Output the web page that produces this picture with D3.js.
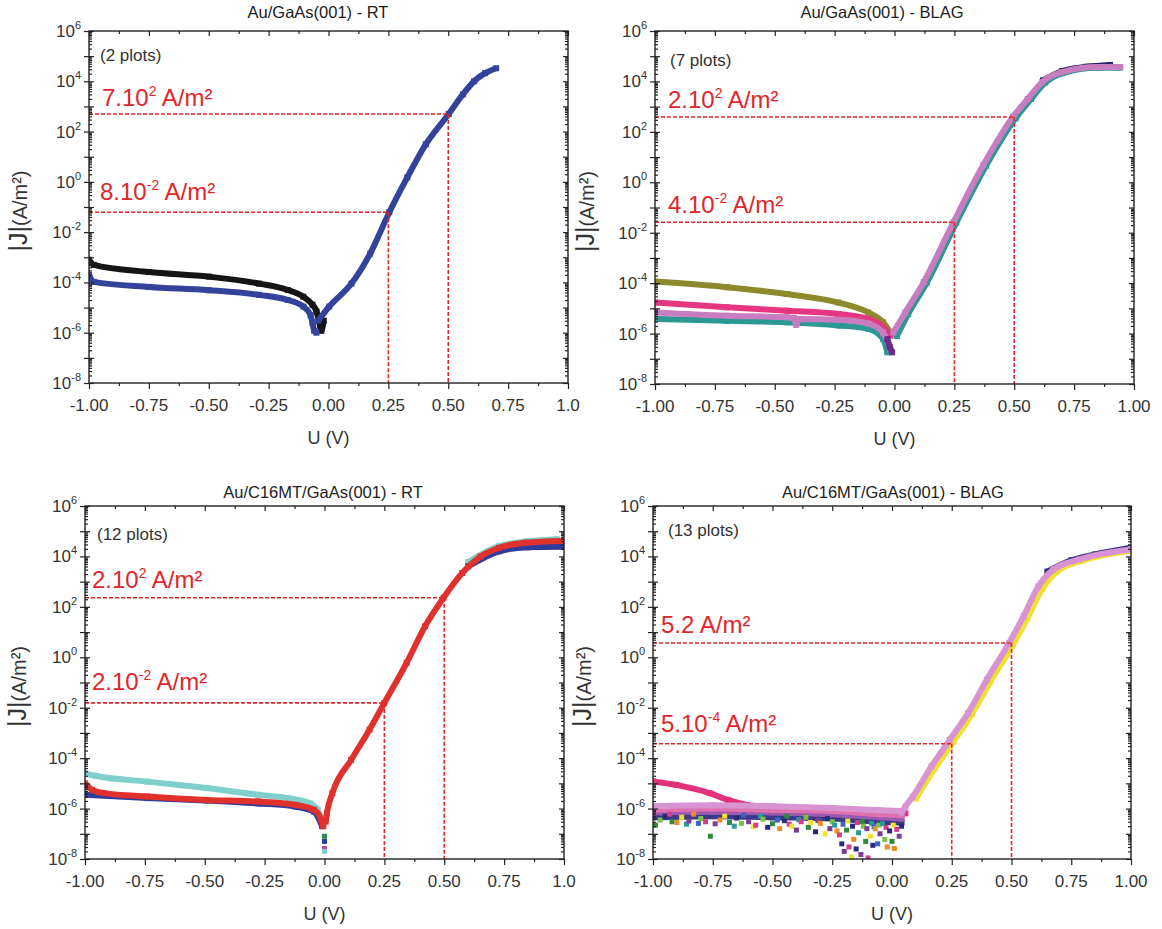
<!DOCTYPE html>
<html>
<head>
<meta charset="utf-8">
<script src="https://cdnjs.cloudflare.com/ajax/libs/d3/7.8.5/d3.min.js"></script>
<style>
body { margin: 0; background: #fff; }
text { font-family: "Liberation Sans", Arial, sans-serif; }
</style>
</head>
<body>
<div id="chart"></div>
<script>
// ---- axis ticks / labels ----
var xMajor = [-1, -0.75, -0.5, -0.25, 0, 0.25, 0.5, 0.75, 1];
var xMinor = [-0.875, -0.625, -0.375, -0.125, 0.125, 0.375, 0.625, 0.875];
var xLabelsFull = ["-1.00", "-0.75", "-0.50", "-0.25", "0.00", "0.25", "0.50", "0.75", "1.00"];
var xLabelsCut = ["-1.00", "-0.75", "-0.50", "-0.25", "0.00", "0.25", "0.50", "0.75", "1.0"];
var yExps = [6, 4, 2, 0, -2, -4, -6, -8];

// ---- Au/GaAs(001) - RT : [U (V), |J| (A/m2)] ----
var p1Black = [[-1.00, 8e-4], [-0.98, 5e-4], [-0.75, 2.6e-4], [-0.50, 1.7e-4], [-0.29, 9e-5],
  [-0.17, 5e-5], [-0.105, 2.7e-5], [-0.067, 1.3e-5], [-0.05, 7e-6], [-0.04, 3e-6], [-0.03, 1.2e-6], [-0.02, 3e-6]];
var p1BlueRev = [[-1.00, 2e-4], [-0.98, 1.05e-4], [-0.75, 6.6e-5], [-0.50, 4.9e-5], [-0.29, 3.2e-5],
  [-0.17, 2e-5], [-0.105, 1.1e-5], [-0.075, 5e-6], [-0.067, 2.5e-6], [-0.06, 1.2e-6], [-0.05, 1e-6]];
var p1BlueFwd = [[-0.043, 3e-6], [0.003, 1.1e-5], [0.096, 9e-5], [0.174, 1.4e-3], [0.254, 6.2e-2],
  [0.329, 1.5], [0.406, 31], [0.502, 5e2], [0.561, 3e3], [0.608, 1e4], [0.654, 2.1e4], [0.70, 3.3e4]];
var p1Refs = [[0.25, 6.2e-2], [0.50, 5e2]];

// ---- Au/GaAs(001) - BLAG ----
var p2Olive = [[-1.00, 1.15e-4], [-0.70, 6.9e-5], [-0.45, 3.7e-5], [-0.234, 1.7e-5], [-0.11, 6.9e-6], [-0.048, 2.8e-6], [-0.017, 1.1e-6]];
var p2Pink = [[-1.00, 1.7e-5], [-0.70, 1.1e-5], [-0.45, 8.1e-6], [-0.234, 6e-6], [-0.11, 3.8e-6], [-0.048, 1.8e-6], [-0.017, 8.3e-7]];
var p2Lilac = [[-1.00, 6.9e-6], [-0.70, 5.1e-6], [-0.45, 4.4e-6], [-0.42, 4.2e-6], [-0.41, 2.2e-6], [-0.40, 3.8e-6],
  [-0.234, 3.5e-6], [-0.11, 2.5e-6], [-0.048, 1.1e-6], [-0.017, 2.5e-7]];
var p2Purple = [[-0.03, 6e-7], [-0.02, 3e-7], [-0.01, 1.8e-7]];
var p2Teal = [[-1.00, 3.8e-6], [-0.70, 3.2e-6], [-0.45, 2.8e-6], [-0.234, 2.1e-6], [-0.11, 1.55e-6], [-0.048, 6.2e-7], [-0.03, 1.8e-7]];
var p2TealFwd = [[0.01, 8e-7], [0.057, 6e-6], [0.134, 1e-4], [0.258, 2.5e-2], [0.382, 4.5], [0.506, 3.5e2],
  [0.57, 2e3], [0.63, 9e3], [0.70, 2.1e4], [0.85, 3.5e4], [0.94, 3.5e4]];
var p2Fwd = [[-0.005, 1.1e-6], [0.045, 6.9e-6], [0.122, 1.1e-4], [0.246, 2.6e-2], [0.370, 4.7], [0.494, 3.9e2],
  [0.556, 2e3], [0.617, 9.5e3], [0.695, 2.3e4], [0.85, 3.7e4], [0.943, 3.7e4]];
var p2NavyTop = [[0.62, 1.1e4], [0.70, 2.6e4], [0.80, 3.8e4], [0.90, 4.5e4]];
var p2Refs = [[0.25, 2.6e-2], [0.50, 3.9e2]];

// ---- Au/C16MT/GaAs(001) - RT ----
var p3Cyan = [[-1.00, 2.5e-5], [-0.957, 2e-5], [-0.74, 1.17e-5], [-0.493, 6.5e-6], [-0.276, 3.5e-6],
  [-0.152, 2.6e-6], [-0.06, 1.6e-6], [-0.029, 8.9e-7], [-0.01, 3e-7]];
var p3Red = [[-1.00, 1.0e-5], [-0.97, 5.5e-6], [-0.92, 4.1e-6], [-0.74, 3e-6], [-0.493, 2.2e-6], [-0.276, 1.9e-6],
  [-0.121, 1.4e-6], [-0.044, 8.9e-7], [-0.013, 3.5e-7], [-0.005, 2e-7]];
var p3Navy = [[-1.00, 3.5e-6], [-0.74, 2.6e-6], [-0.493, 2.1e-6], [-0.276, 1.6e-6], [-0.121, 1.2e-6], [-0.044, 7.6e-7], [-0.01, 2e-7]];
var p3Dip = [[0.0, 8e-8, "#2a8a4a"], [0.0, 5e-8, "#2f3c9c"], [0.0, 2.6e-8, "#c84aa8"], [0.0, 2e-8, "#7fcfcd"]];
var p3CyanTop = [[0.60, 6e3], [0.73, 2.6e4], [0.85, 4e4], [0.97, 4.8e4]];
var p3NavyTop = [[0.60, 4e3], [0.73, 1.6e4], [0.85, 2.3e4], [1.00, 2.4e4]];
var p3RedFwd = [[0.005, 3e-7], [0.01, 6.6e-7], [0.033, 4.1e-6], [0.111, 8.5e-5], [0.188, 1.35e-3], [0.25, 1.55e-2],
  [0.343, 0.6], [0.42, 17], [0.497, 2.3e2], [0.575, 2.2e3], [0.652, 1e4], [0.729, 2.2e4], [0.838, 3.5e4], [0.992, 4.1e4]];
var p3Refs = [[0.25, 1.55e-2], [0.50, 2.3e2]];

// ---- Au/C16MT/GaAs(001) - BLAG ----
var p4Hot = [[-1.00, 1.2e-5], [-0.903, 8.7e-6], [-0.763, 4.1e-6], [-0.686, 2.2e-6], [-0.609, 1.4e-6], [-0.531, 1.2e-6],
  [-0.377, 1.0e-6], [-0.222, 9.3e-7], [-0.067, 7.6e-7], [0.01, 5.6e-7], [0.056, 6.5e-7]];
var p4Navy = [[-1.00, 4.5e-7], [-0.75, 5e-7], [-0.50, 4.5e-7], [-0.25, 4e-7], [-0.05, 3e-7], [0.04, 2.8e-7]];
var p4Violet = [[-1.00, 7e-7], [-0.75, 7.5e-7], [-0.50, 7e-7], [-0.25, 6e-7], [-0.05, 4.5e-7], [0.04, 4e-7]];
var p4Rose = [[-1.00, 9e-7], [-0.75, 1e-6], [-0.50, 9e-7], [-0.25, 8e-7], [-0.05, 6e-7], [0.04, 5.5e-7]];
var p4Lilac = [[-1.00, 1.25e-6], [-0.75, 1.35e-6], [-0.50, 1.25e-6], [-0.25, 1.05e-6], [-0.05, 8.5e-7], [0.04, 8e-7]];
var p4Yellow = [[0.10, 2.5e-6], [0.18, 4e-5], [0.257, 4.5e-4], [0.334, 5.5e-3], [0.412, 0.11], [0.505, 3],
  [0.566, 35], [0.628, 5e2], [0.69, 2.5e3], [0.80, 7e3], [1.00, 1.7e4]];
var p4NavyTop = [[0.65, 2.5e3], [0.75, 7e3], [0.85, 1.2e4], [1.00, 2.2e4]];
var p4Fwd = [[0.04, 7e-7], [0.056, 1.2e-6], [0.087, 3e-6], [0.165, 4.7e-5], [0.242, 5.4e-4], [0.319, 6.2e-3],
  [0.397, 0.13], [0.49, 3.7], [0.551, 43], [0.613, 6.6e2], [0.675, 3e3], [0.783, 7.6e3], [1.00, 1.9e4]];
var p4NoiseColors = ["#2e8b3e", "#7cc04a", "#f2e32a", "#f08c28", "#2a2a7a", "#7a3c96", "#d43c8c", "#2a9a9a", "#3c64c8"];
var p4Noise = [[-0.99, 2.2e-7, 0], [-0.97, 3.5e-7, 1], [-0.95, 5e-7, 4], [-0.93, 6e-7, 6], [-0.92, 3e-7, 0],
  [-0.90, 2.8e-7, 3], [-0.88, 4.5e-7, 2], [-0.86, 2.4e-7, 7], [-0.85, 3.2e-7, 5], [-0.83, 6e-7, 3], [-0.81, 2.6e-7, 8],
  [-0.80, 4e-7, 1], [-0.78, 3e-7, 6], [-0.76, 8e-8, 0], [-0.74, 2.5e-7, 5], [-0.72, 3.5e-7, 3],
  [-0.70, 5e-7, 2], [-0.68, 2.8e-7, 0], [-0.66, 2e-7, 7], [-0.65, 4.2e-7, 4], [-0.63, 2.6e-7, 1], [-0.62, 5.5e-7, 8],
  [-0.60, 3e-7, 5], [-0.58, 1.9e-7, 2], [-0.57, 2.2e-7, 6],
  [-0.55, 5e-7, 7], [-0.54, 3.8e-7, 1], [-0.52, 1.8e-7, 4], [-0.50, 2.5e-7, 0], [-0.48, 3.5e-7, 8], [-0.47, 1.6e-7, 3],
  [-0.45, 3.3e-7, 4], [-0.44, 5e-7, 0], [-0.43, 2.4e-7, 6],
  [-0.42, 2e-7, 2], [-0.40, 1.4e-7, 5], [-0.39, 3.6e-7, 7], [-0.38, 3e-7, 6], [-0.36, 4.5e-7, 1], [-0.35, 1.8e-7, 0],
  [-0.34, 2.8e-7, 2], [-0.32, 1.2e-7, 4], [-0.31, 3.4e-7, 5],
  [-0.30, 2.6e-7, 3], [-0.28, 1e-7, 2], [-0.27, 4e-7, 4], [-0.26, 1.6e-7, 5], [-0.25, 3e-7, 1], [-0.24, 2.2e-7, 7],
  [-0.23, 1.3e-7, 3], [-0.22, 9e-8, 6],
  [-0.21, 4e-8, 4], [-0.205, 2.4e-7, 8], [-0.20, 2e-8, 5], [-0.19, 1.4e-7, 0], [-0.185, 3.2e-7, 2], [-0.18, 3e-8, 6],
  [-0.17, 1.2e-8, 2], [-0.165, 2e-7, 4], [-0.16, 6e-8, 3],
  [-0.15, 2.5e-8, 4], [-0.145, 2.8e-7, 6], [-0.14, 1.1e-7, 7], [-0.13, 1.5e-8, 5], [-0.125, 3e-7, 0], [-0.12, 2e-7, 1],
  [-0.11, 5e-8, 0], [-0.105, 1.6e-7, 5], [-0.10, 1.1e-8, 6],
  [-0.09, 8e-8, 2], [-0.085, 2.6e-7, 7], [-0.08, 3.5e-8, 4], [-0.075, 1.9e-7, 8], [-0.07, 1.6e-7, 3], [-0.06, 4e-8, 8],
  [-0.055, 2.2e-7, 1], [-0.05, 1e-7, 5], [-0.04, 2.5e-7, 7],
  [-0.03, 6e-8, 1], [-0.025, 1.8e-7, 6], [-0.02, 3e-8, 3], [-0.01, 1.3e-7, 4], [0.00, 5e-8, 0], [0.005, 2.2e-7, 2],
  [0.01, 2.6e-8, 3], [0.02, 1.5e-7, 6], [0.03, 8e-8, 5], [0.04, 2e-7, 4]];
var p4Refs = [[0.25, 3.7e-4], [0.50, 3.7]];

// ---- panel layout ----
var panels = [
  { title: "Au/GaAs(001) - RT", tx: 318, ty: 18, l: 89, r: 568, t: 31, b: 383, note: "(2 plots)", nx: 100, ny: 61,
    xLabels: xLabelsCut, ylx: 27,
    series: [{ d: p1Black, c: "#151515" }, { d: p1BlueRev, c: "#33439c" }, { d: p1BlueFwd, c: "#33439c" }],
    refs: p1Refs, refText: [["8.10", "-2", 100, 200], ["7.10", "2", 102, 106]] },
  { title: "Au/GaAs(001) - BLAG", tx: 882, ty: 18, l: 655, r: 1134, t: 31, b: 384, note: "(7 plots)", nx: 670, ny: 66,
    xLabels: xLabelsFull, ylx: 594,
    series: [{ d: p2Olive, c: "#8c8a2c" }, { d: p2Pink, c: "#e4377f" }, { d: p2Teal, c: "#2b9896" },
      { d: p2Lilac, c: "#c77dc0" }, { d: p2Purple, c: "#6c2c8c" }, { d: p2TealFwd, c: "#2b9896" },
      { d: p2NavyTop, c: "#232360" }, { d: p2Fwd, c: "#c77dc0" }],
    refs: p2Refs, refText: [["4.10", "-2", 668, 213], ["2.10", "2", 668, 108]] },
  { title: "Au/C16MT/GaAs(001) - RT", tx: 323, ty: 498, l: 85, r: 564, t: 506, b: 859, note: "(12 plots)", nx: 97, ny: 540,
    xLabels: xLabelsCut, ylx: 26,
    series: [{ d: p3Cyan, c: "#7fcfcd" }, { d: p3Navy, c: "#2f3c9c" }, { d: p3Red, c: "#e0312c" },
      { d: p3CyanTop, c: "#7fcfcd" }, { d: p3NavyTop, c: "#2f3c9c" }, { d: p3RedFwd, c: "#e0312c" }],
    dots: p3Dip, refs: p3Refs, refText: [["2.10", "-2", 92, 690], ["2.10", "2", 92, 588]] },
  { title: "Au/C16MT/GaAs(001) - BLAG", tx: 893, ty: 498, l: 653, r: 1131, t: 506, b: 859, note: "(13 plots)", nx: 668, ny: 536,
    xLabels: xLabelsFull, ylx: 591,
    series: [{ d: p4Hot, c: "#e2327c" }, { d: p4Navy, c: "#3a3a88" }, { d: p4Violet, c: "#9a5ab0" }, { d: p4Rose, c: "#e070b0" },
      { d: p4Lilac, c: "#d894d2" }, { d: p4Yellow, c: "#f0e030" }, { d: p4NavyTop, c: "#343480" },
      { d: p4Fwd, c: "#d894d2" }],
    dots: p4Noise.map(function (p) { return [p[0], p[1], p4NoiseColors[p[2]]]; }),
    refs: p4Refs, refText: [["5.10", "-4", 661, 732], ["5.2", null, 661, 633]] }
];

var svg = d3.select("#chart").append("svg")
  .attr("width", 1162).attr("height", 929);

panels.forEach(function (p, i) {
  var x = d3.scaleLinear().domain([-1, 1]).range([p.l, p.r]);
  var y = d3.scaleLog().domain([1e-8, 1e6]).range([p.b, p.t]);
  var g = svg.append("g");

  g.append("clipPath").attr("id", "clip" + i)
    .append("rect").attr("x", p.l).attr("y", p.t).attr("width", p.r - p.l).attr("height", p.b - p.t);

  // data: thick smooth band through the read points plus square markers
  var plot = g.append("g").attr("clip-path", "url(#clip" + i + ")");
  var line = d3.line().curve(d3.curveMonotoneX)
    .x(function (d) { return x(d[0]); }).y(function (d) { return y(d[1]); });
  p.series.forEach(function (s) {
    plot.append("path").attr("d", line(s.d))
      .attr("fill", "none").attr("stroke", s.c).attr("stroke-width", 6)
      .attr("stroke-linejoin", "round");
    plot.selectAll(null).data(s.d).enter().append("rect")
      .attr("x", function (d) { return x(d[0]) - 3; })
      .attr("y", function (d) { return y(d[1]) - 3; })
      .attr("width", 6).attr("height", 6).attr("fill", s.c);
  });
  if (p.dots) {
    plot.selectAll(null).data(p.dots).enter().append("rect")
      .attr("x", function (d) { return x(d[0]) - 2.5; })
      .attr("y", function (d) { return y(d[1]) - 2.5; })
      .attr("width", 5).attr("height", 5).attr("fill", function (d) { return d[2]; });
  }

  // red reference lines
  p.refs.forEach(function (rf) {
    g.append("line").attr("x1", p.l).attr("x2", x(rf[0])).attr("y1", y(rf[1])).attr("y2", y(rf[1]))
      .attr("stroke", "#e02828").attr("stroke-width", 1.6).attr("stroke-dasharray", "4,2");
    g.append("line").attr("x1", x(rf[0])).attr("x2", x(rf[0])).attr("y1", y(rf[1])).attr("y2", p.b)
      .attr("stroke", "#e02828").attr("stroke-width", 1.6).attr("stroke-dasharray", "4,2");
  });
  p.refText.forEach(function (t) {
    var tx = g.append("text").attr("x", t[2]).attr("y", t[3])
      .attr("fill", "#e0262a").style("font-size", "24px");
    tx.append("tspan").text(t[0]);
    if (t[1] !== null) {
      tx.append("tspan").attr("dy", -10).style("font-size", "14px").text(t[1]);
      tx.append("tspan").attr("dy", 10).text(" A/m²");
    } else {
      tx.append("tspan").text(" A/m²");
    }
  });

  // y decade and minor ticks
  var decades = d3.range(-8, 7).map(function (e) { return Math.pow(10, e); });
  var minors = [];
  d3.range(-8, 6).forEach(function (e) {
    d3.range(2, 10).forEach(function (m) { minors.push(m * Math.pow(10, e)); });
  });

  var axStyle = function (sel) {
    sel.selectAll("path").remove();
    sel.selectAll("line").attr("stroke", "#222").attr("stroke-width", 1.2);
  };
  g.append("g").attr("transform", "translate(" + p.l + ",0)")
    .call(d3.axisLeft(y).tickValues(decades).tickSize(5).tickFormat("")).call(axStyle);
  g.append("g").attr("transform", "translate(" + p.l + ",0)")
    .call(d3.axisRight(y).tickValues(decades).tickSize(5).tickFormat("")).call(axStyle);
  g.append("g").attr("transform", "translate(" + p.l + ",0)")
    .call(d3.axisRight(y).tickValues(minors).tickSize(3).tickFormat("")).call(axStyle);
  g.append("g").attr("transform", "translate(" + p.r + ",0)")
    .call(d3.axisLeft(y).tickValues(decades).tickSize(5).tickFormat("")).call(axStyle);
  g.append("g").attr("transform", "translate(" + p.r + ",0)")
    .call(d3.axisLeft(y).tickValues(minors).tickSize(3).tickFormat("")).call(axStyle);

  // x ticks
  g.append("g").attr("transform", "translate(0," + p.b + ")")
    .call(d3.axisBottom(x).tickValues(xMajor).tickSize(6).tickFormat(""))
    .call(axStyle);
  g.append("g").attr("transform", "translate(0," + p.b + ")")
    .call(d3.axisBottom(x).tickValues(xMinor).tickSize(3).tickFormat(""))
    .call(axStyle);
  g.append("g").attr("transform", "translate(0," + p.t + ")")
    .call(d3.axisBottom(x).tickValues(xMajor).tickSize(5).tickFormat(""))
    .call(axStyle);
  g.append("g").attr("transform", "translate(0," + p.t + ")")
    .call(d3.axisBottom(x).tickValues(xMinor).tickSize(3).tickFormat(""))
    .call(axStyle);

  // frame
  g.append("rect").attr("x", p.l).attr("y", p.t).attr("width", p.r - p.l).attr("height", p.b - p.t)
    .attr("fill", "none").attr("stroke", "#222").attr("stroke-width", 1.4);

  // tick labels
  g.selectAll(null).data(xMajor).enter().append("text")
    .attr("x", function (d) { return x(d); }).attr("y", p.b + 28)
    .attr("text-anchor", "middle").attr("fill", "#333").style("font-size", "17px")
    .text(function (d, k) { return p.xLabels[k]; });
  var yl = g.selectAll(null).data(yExps).enter().append("text")
    .attr("x", p.l - 8).attr("y", function (d) { return y(Math.pow(10, d)) + 6; })
    .attr("text-anchor", "end").attr("fill", "#333").style("font-size", "17px");
  yl.append("tspan").text("10");
  yl.append("tspan").attr("dy", -8).style("font-size", "11px").text(function (d) { return d; });

  // titles and labels
  g.append("text").attr("x", p.tx).attr("y", p.ty).attr("text-anchor", "middle")
    .attr("fill", "#222").style("font-size", "16.5px").text(p.title);
  g.append("text").attr("x", p.nx).attr("y", p.ny).attr("fill", "#333")
    .style("font-size", "17px").text(p.note);
  g.append("text").attr("x", (p.l + p.r) / 2).attr("y", p.b + 61).attr("text-anchor", "middle")
    .attr("fill", "#333").style("font-size", "18px").text("U (V)");
  var ylab = g.append("text")
    .attr("transform", "translate(" + p.ylx + "," + ((p.t + p.b) / 2 + 4) + ") rotate(-90)")
    .attr("text-anchor", "middle").attr("fill", "#333").style("font-size", "20px");
  ylab.append("tspan").style("font-size", "25px").text("|J|");
  ylab.append("tspan").text("(A/m²)");
});
</script>
</body>
</html>
